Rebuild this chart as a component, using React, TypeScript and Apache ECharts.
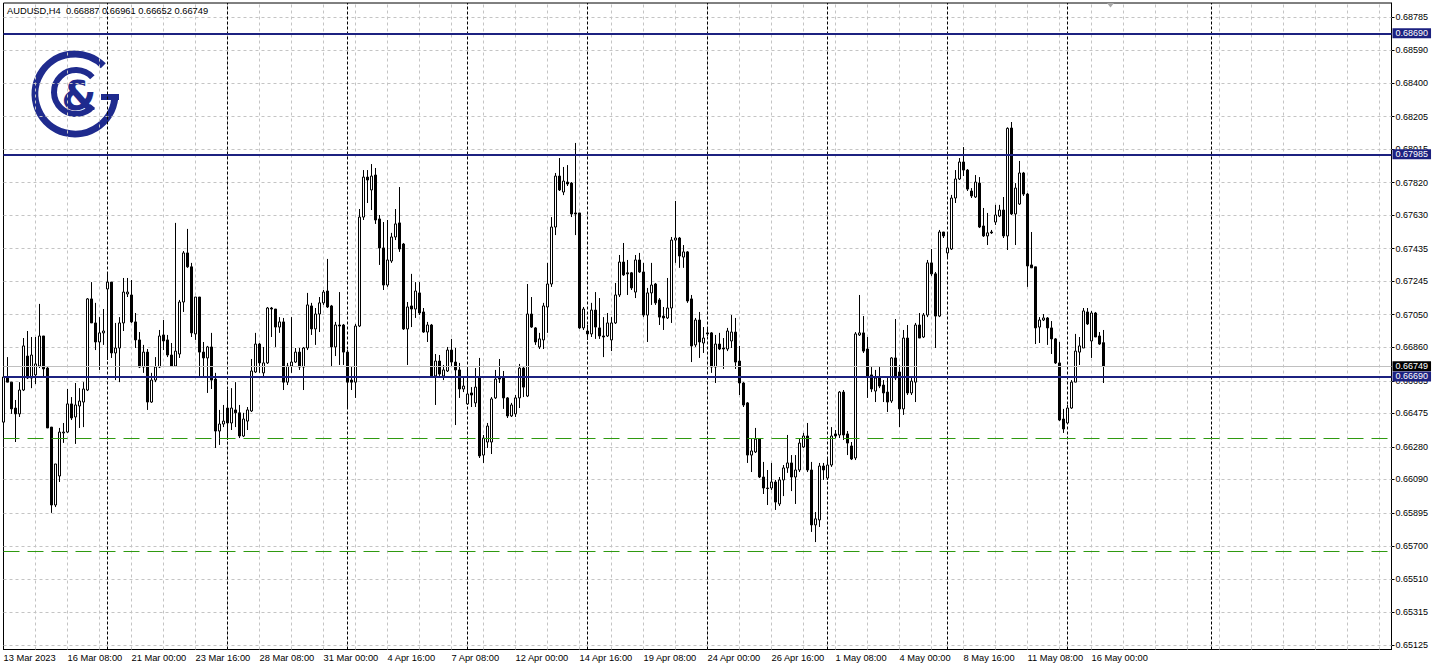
import React, { useEffect, useRef } from 'react';
import * as echarts from 'echarts';

const SYMBOL = 'AUDUSD,H4';

const opens = [
  0.66424, 0.66687, 0.66657, 0.66506, 0.66472, 0.66611, 0.66809, 0.66681, 0.66699, 0.66751,
  0.66926, 0.66739, 0.66395, 0.65941, 0.66110, 0.66361, 0.66366, 0.66530, 0.66454, 0.66518,
  0.66541, 0.66611, 0.67142, 0.67002, 0.66891, 0.66944, 0.67200, 0.67240, 0.66827, 0.66856,
  0.67002, 0.67171, 0.67165, 0.67008, 0.66903, 0.66745, 0.66832, 0.66541, 0.66669, 0.66745,
  0.66932, 0.66903, 0.66815, 0.66751, 0.66821, 0.67124, 0.67410, 0.67329, 0.66938, 0.67153,
  0.66832, 0.66798, 0.66862, 0.66675, 0.66372, 0.66413, 0.66506, 0.66419, 0.66495, 0.66478,
  0.66343, 0.66430, 0.66489, 0.66716, 0.66879, 0.66711, 0.66769, 0.67089, 0.67083, 0.66978,
  0.67008, 0.66657, 0.66751, 0.66774, 0.66832, 0.66745, 0.66856, 0.67101, 0.66967, 0.67054,
  0.67119, 0.67188, 0.67101, 0.66862, 0.66990, 0.66990, 0.66832, 0.66669, 0.66657, 0.66984,
  0.67619, 0.67852, 0.67777, 0.67864, 0.67608, 0.67439, 0.67223, 0.67363, 0.67503, 0.67585,
  0.67462, 0.66967, 0.67101, 0.67083, 0.67177, 0.67066, 0.66949, 0.66990, 0.66693, 0.66780,
  0.66693, 0.66722, 0.66844, 0.66774, 0.66728, 0.66617, 0.66530, 0.66594, 0.66536, 0.66687,
  0.66232, 0.66308, 0.66308, 0.66565, 0.66681, 0.66681, 0.66565, 0.66460, 0.66472, 0.66565,
  0.66739, 0.66576, 0.67054, 0.66973, 0.66862, 0.66903, 0.67095, 0.67229, 0.67561, 0.67858,
  0.67765, 0.67823, 0.67817, 0.67643, 0.67643, 0.66973, 0.66955, 0.66938, 0.67077, 0.66973,
  0.66926, 0.66926, 0.66903, 0.67002, 0.67165, 0.67357, 0.67294, 0.67294, 0.67182, 0.67369,
  0.67299, 0.67048, 0.67177, 0.67229, 0.67136, 0.67042, 0.67031, 0.67089, 0.67485, 0.67497,
  0.67386, 0.67416, 0.67142, 0.66874, 0.67019, 0.66885, 0.66944, 0.66944, 0.66745, 0.66879,
  0.66856, 0.66850, 0.66897, 0.66949, 0.66780, 0.66652, 0.66536, 0.66232, 0.66250, 0.66325,
  0.66104, 0.66040, 0.66040, 0.66075, 0.65947, 0.66087, 0.66157, 0.66186, 0.66104, 0.66145,
  0.66279, 0.66343, 0.66145, 0.65825, 0.65854, 0.66168, 0.66098, 0.66174, 0.66355, 0.66349,
  0.66599, 0.66355, 0.66285, 0.66215, 0.66932, 0.66944, 0.66850, 0.66699, 0.66605, 0.66681,
  0.66640, 0.66599, 0.66547, 0.66798, 0.66716, 0.66501, 0.66914, 0.66594, 0.66657, 0.66990,
  0.66920, 0.67048, 0.67352, 0.67288, 0.67042, 0.67532, 0.67410, 0.67433, 0.67730, 0.67841,
  0.67940, 0.67893, 0.67771, 0.67736, 0.67817, 0.67567, 0.67509, 0.67532, 0.67590, 0.67625,
  0.67660, 0.67509, 0.68138, 0.67637, 0.67695, 0.67876, 0.67753, 0.67340, 0.67329, 0.66978,
  0.67019, 0.67031, 0.66973, 0.66909, 0.66769, 0.66442, 0.66419, 0.66506, 0.66657, 0.66832,
  0.66856, 0.67066, 0.66897, 0.67060, 0.66926, 0.66887,
];

const highs = [
  0.67165, 0.66803, 0.66657, 0.66553, 0.66657, 0.66914, 0.66955, 0.66920, 0.66920, 0.67113,
  0.66926, 0.66745, 0.66395, 0.66180, 0.66390, 0.66419, 0.66617, 0.66570, 0.66652, 0.66622,
  0.66657, 0.67147, 0.67240, 0.67119, 0.67036, 0.67083, 0.67294, 0.67240, 0.67002, 0.67036,
  0.67264, 0.67264, 0.67252, 0.67060, 0.66949, 0.66874, 0.66850, 0.66711, 0.66803, 0.66961,
  0.67019, 0.66932, 0.66885, 0.67585, 0.67136, 0.67421, 0.67550, 0.67352, 0.67153, 0.67153,
  0.66891, 0.66868, 0.66944, 0.66711, 0.66495, 0.66524, 0.66611, 0.66622, 0.66657, 0.66524,
  0.66478, 0.66512, 0.66792, 0.66944, 0.66885, 0.66862, 0.67095, 0.67095, 0.67083, 0.67036,
  0.67031, 0.66769, 0.67036, 0.66856, 0.66856, 0.66862, 0.67177, 0.67119, 0.67089, 0.67153,
  0.67194, 0.67375, 0.67107, 0.67008, 0.67182, 0.66996, 0.66844, 0.66745, 0.66996, 0.67666,
  0.67893, 0.67893, 0.67928, 0.67905, 0.67631, 0.67590, 0.67602, 0.67527, 0.67666, 0.67794,
  0.67468, 0.67124, 0.67288, 0.67240, 0.67240, 0.67089, 0.67008, 0.66996, 0.66821, 0.66815,
  0.66757, 0.66862, 0.66909, 0.66856, 0.66769, 0.66681, 0.66739, 0.66628, 0.66739, 0.66798,
  0.66349, 0.66419, 0.66570, 0.66728, 0.66792, 0.66722, 0.66570, 0.66536, 0.66582, 0.66763,
  0.66751, 0.67229, 0.67153, 0.66978, 0.66944, 0.67119, 0.67352, 0.67619, 0.67876, 0.67963,
  0.67911, 0.67922, 0.67823, 0.68051, 0.67643, 0.67095, 0.66990, 0.67119, 0.67182, 0.67147,
  0.67036, 0.67060, 0.67036, 0.67235, 0.67398, 0.67468, 0.67369, 0.67299, 0.67398, 0.67410,
  0.67352, 0.67206, 0.67352, 0.67235, 0.67147, 0.67095, 0.67264, 0.67503, 0.67713, 0.67503,
  0.67456, 0.67421, 0.67165, 0.67031, 0.67066, 0.66978, 0.66978, 0.66949, 0.66932, 0.66944,
  0.66914, 0.66973, 0.67048, 0.67031, 0.66868, 0.66657, 0.66541, 0.66331, 0.66390, 0.66331,
  0.66192, 0.66145, 0.66186, 0.66087, 0.66104, 0.66174, 0.66349, 0.66232, 0.66232, 0.66331,
  0.66361, 0.66419, 0.66192, 0.65900, 0.66186, 0.66186, 0.66221, 0.66395, 0.66378, 0.66605,
  0.66611, 0.66372, 0.66308, 0.66949, 0.67165, 0.67042, 0.66920, 0.66745, 0.66728, 0.66745,
  0.66669, 0.66687, 0.66803, 0.67025, 0.66757, 0.66961, 0.66990, 0.66687, 0.67002, 0.67060,
  0.67060, 0.67369, 0.67433, 0.67299, 0.67544, 0.67532, 0.67520, 0.67748, 0.67893, 0.67963,
  0.68027, 0.67899, 0.67788, 0.67864, 0.67852, 0.67672, 0.67643, 0.67544, 0.67690, 0.67690,
  0.67736, 0.68142, 0.68173, 0.67817, 0.67946, 0.67882, 0.67759, 0.67532, 0.67329, 0.67036,
  0.67054, 0.67036, 0.67013, 0.66914, 0.66891, 0.66501, 0.66524, 0.66669, 0.66938, 0.66920,
  0.67089, 0.67089, 0.67072, 0.67066, 0.66949, 0.66961,
];

const lows = [
  0.66337, 0.66657, 0.66472, 0.66308, 0.66454, 0.66605, 0.66675, 0.66622, 0.66646, 0.66739,
  0.66681, 0.66390, 0.65895, 0.65929, 0.66075, 0.66303, 0.66361, 0.66436, 0.66297, 0.66390,
  0.66395, 0.66605, 0.67002, 0.66844, 0.66728, 0.66874, 0.66786, 0.66798, 0.66669, 0.66657,
  0.66955, 0.67153, 0.67002, 0.66856, 0.66739, 0.66711, 0.66495, 0.66536, 0.66657, 0.66739,
  0.66844, 0.66803, 0.66745, 0.66745, 0.66798, 0.67066, 0.67323, 0.66920, 0.66903, 0.66693,
  0.66687, 0.66594, 0.66617, 0.66273, 0.66291, 0.66395, 0.66320, 0.66378, 0.66395, 0.66331,
  0.66337, 0.66378, 0.66483, 0.66711, 0.66711, 0.66681, 0.66763, 0.66920, 0.66862, 0.66944,
  0.66611, 0.66640, 0.66711, 0.66769, 0.66728, 0.66611, 0.66844, 0.66932, 0.66874, 0.66949,
  0.67107, 0.67089, 0.66745, 0.66809, 0.66757, 0.66757, 0.66506, 0.66611, 0.66565, 0.66978,
  0.67602, 0.67701, 0.67660, 0.67579, 0.67340, 0.67194, 0.67212, 0.67352, 0.67485, 0.67416,
  0.66961, 0.66757, 0.66978, 0.67031, 0.67048, 0.66944, 0.66891, 0.66681, 0.66524, 0.66693,
  0.66669, 0.66716, 0.66745, 0.66407, 0.66565, 0.66599, 0.66524, 0.66512, 0.66512, 0.66215,
  0.66186, 0.66273, 0.66238, 0.66559, 0.66652, 0.66501, 0.66448, 0.66454, 0.66454, 0.66506,
  0.66570, 0.66570, 0.66973, 0.66874, 0.66850, 0.66850, 0.66944, 0.67212, 0.67514, 0.67771,
  0.67747, 0.67800, 0.67619, 0.67514, 0.66967, 0.66961, 0.66903, 0.66920, 0.66909, 0.66909,
  0.66803, 0.66920, 0.66838, 0.66996, 0.67153, 0.67276, 0.67165, 0.67194, 0.67147, 0.67294,
  0.67036, 0.66891, 0.67107, 0.67107, 0.66990, 0.66961, 0.67025, 0.67002, 0.67352, 0.67323,
  0.67323, 0.67119, 0.66774, 0.66862, 0.66798, 0.66827, 0.66926, 0.66711, 0.66652, 0.66844,
  0.66734, 0.66838, 0.66856, 0.66734, 0.66582, 0.66512, 0.66186, 0.66133, 0.66244, 0.66098,
  0.66005, 0.65941, 0.66028, 0.65912, 0.65935, 0.65993, 0.66128, 0.66022, 0.65947, 0.66133,
  0.66273, 0.66133, 0.65784, 0.65725, 0.65813, 0.66087, 0.66087, 0.66163, 0.66331, 0.66331,
  0.66320, 0.66232, 0.66203, 0.66203, 0.66926, 0.66827, 0.66565, 0.66599, 0.66541, 0.66622,
  0.66541, 0.66483, 0.66536, 0.66669, 0.66395, 0.66466, 0.66582, 0.66582, 0.66541, 0.66914,
  0.66914, 0.67036, 0.67276, 0.66856, 0.67036, 0.67497, 0.67386, 0.67427, 0.67701, 0.67835,
  0.67858, 0.67771, 0.67730, 0.67730, 0.67555, 0.67503, 0.67456, 0.67521, 0.67573, 0.67619,
  0.67497, 0.67427, 0.67631, 0.67456, 0.67690, 0.67742, 0.67212, 0.67323, 0.66879, 0.66885,
  0.67013, 0.66874, 0.66821, 0.66763, 0.66430, 0.66361, 0.66413, 0.66501, 0.66657, 0.66757,
  0.66856, 0.66990, 0.66798, 0.66920, 0.66874, 0.66652,
];

const closes = [
  0.66687, 0.66657, 0.66501, 0.66472, 0.66611, 0.66868, 0.66681, 0.66815, 0.66763, 0.66926,
  0.66734, 0.66390, 0.65941, 0.66180, 0.66366, 0.66366, 0.66530, 0.66448, 0.66524, 0.66547,
  0.66617, 0.67142, 0.67002, 0.66891, 0.66944, 0.66955, 0.67240, 0.66827, 0.66856, 0.67002,
  0.67182, 0.67182, 0.67008, 0.66903, 0.66745, 0.66832, 0.66541, 0.66669, 0.66745, 0.66926,
  0.66897, 0.66815, 0.66751, 0.66838, 0.67124, 0.67410, 0.67329, 0.66944, 0.67153, 0.66832,
  0.66798, 0.66862, 0.66669, 0.66372, 0.66413, 0.66430, 0.66419, 0.66506, 0.66478, 0.66343,
  0.66442, 0.66495, 0.66722, 0.66879, 0.66769, 0.66769, 0.67089, 0.67083, 0.66978, 0.67008,
  0.66657, 0.66751, 0.66774, 0.66832, 0.66745, 0.66856, 0.67107, 0.66967, 0.67054, 0.67119,
  0.67182, 0.67095, 0.66862, 0.66990, 0.66984, 0.66832, 0.66657, 0.66657, 0.66984, 0.67619,
  0.67852, 0.67835, 0.67858, 0.67602, 0.67439, 0.67223, 0.67369, 0.67503, 0.67579, 0.67433,
  0.66967, 0.67095, 0.67083, 0.67188, 0.67060, 0.66949, 0.66990, 0.66687, 0.66780, 0.66704,
  0.66728, 0.66844, 0.66774, 0.66728, 0.66617, 0.66634, 0.66588, 0.66582, 0.66628, 0.66227,
  0.66331, 0.66401, 0.66559, 0.66675, 0.66675, 0.66565, 0.66460, 0.66524, 0.66565, 0.66739,
  0.66628, 0.67054, 0.66978, 0.66891, 0.66909, 0.67101, 0.67229, 0.67561, 0.67858, 0.67777,
  0.67829, 0.67812, 0.67637, 0.67637, 0.66973, 0.67083, 0.66938, 0.67077, 0.66978, 0.66926,
  0.66920, 0.67002, 0.67002, 0.67165, 0.67357, 0.67282, 0.67288, 0.67206, 0.67369, 0.67299,
  0.67048, 0.67177, 0.67223, 0.67119, 0.67036, 0.67031, 0.67089, 0.67485, 0.67497, 0.67392,
  0.67416, 0.67130, 0.66868, 0.67019, 0.66891, 0.66914, 0.66938, 0.66745, 0.66879, 0.66850,
  0.66850, 0.66955, 0.66949, 0.66774, 0.66652, 0.66524, 0.66232, 0.66256, 0.66325, 0.66104,
  0.66040, 0.66037, 0.66075, 0.65958, 0.66087, 0.66157, 0.66186, 0.66104, 0.66145, 0.66302,
  0.66343, 0.66145, 0.65825, 0.65860, 0.66168, 0.66145, 0.66174, 0.66343, 0.66343, 0.66599,
  0.66349, 0.66302, 0.66209, 0.66938, 0.66944, 0.66838, 0.66687, 0.66617, 0.66681, 0.66634,
  0.66594, 0.66541, 0.66798, 0.66681, 0.66501, 0.66914, 0.66594, 0.66663, 0.66990, 0.66914,
  0.67048, 0.67352, 0.67288, 0.67042, 0.67532, 0.67509, 0.67439, 0.67730, 0.67841, 0.67940,
  0.67893, 0.67782, 0.67742, 0.67823, 0.67561, 0.67509, 0.67527, 0.67527, 0.67631, 0.67660,
  0.67509, 0.68136, 0.67637, 0.67788, 0.67876, 0.67753, 0.67334, 0.67323, 0.66973, 0.67019,
  0.67031, 0.66973, 0.66909, 0.66769, 0.66436, 0.66384, 0.66506, 0.66657, 0.66838, 0.66868,
  0.67072, 0.66996, 0.67060, 0.66920, 0.66879, 0.66749,
];

// price-axis tick labels (as printed on the right scale)
const yTicks = [
  0.68785, 0.68590, 0.68400, 0.68205, 0.68015, 0.67820, 0.67630, 0.67435, 0.67245, 0.67050,
  0.66860, 0.66665, 0.66475, 0.66280, 0.66090, 0.65895, 0.65700, 0.65510, 0.65315, 0.65125,
];

// time-axis tick labels, one every 16 bars
const xTickLabels = [
  '13 Mar 2023', '16 Mar 08:00', '21 Mar 00:00', '23 Mar 16:00', '28 Mar 08:00', '31 Mar 00:00',
  '4 Apr 16:00', '7 Apr 08:00', '12 Apr 00:00', '14 Apr 16:00', '19 Apr 08:00', '24 Apr 00:00',
  '26 Apr 16:00', '1 May 08:00', '4 May 00:00', '8 May 16:00', '11 May 08:00', '16 May 00:00',
];

// weekly period separators
const weekSeparators = [
  '2023.03.20 00:00', '2023.03.27 00:00', '2023.04.03 00:00', '2023.04.10 00:00', '2023.04.17 00:00',
  '2023.04.24 00:00', '2023.05.01 00:00', '2023.05.08 00:00', '2023.05.15 00:00', '2023.05.23 00:00',
];

const levelLines = [0.68690, 0.67985, 0.66690];
const dashedLevels = [0.66329, 0.65670];
const lastPrice = 0.66749;

const Y_MIN = 0.650988;
const Y_MAX = 0.688666;
const TOTAL_SLOTS = 348;
const GRID_EVERY = 8; // vertical grid line every 8 bars
const FIRST_BAR_UTC = Date.UTC(2023, 2, 13, 16);

const NAVY = '#1c2180';
const LOGO = '#1f2b8e';
const GREEN = '#2f9a10';
const GRID_GRAY = '#c4c4c4';
const FONT = "'Liberation Sans', Arial, sans-serif";

const pad = (n: number) => (n < 10 ? '0' + n : '' + n);

function buildTimes(n: number): string[] {
  const out: string[] = [];
  let t = FIRST_BAR_UTC;
  while (out.length < n) {
    const d = new Date(t);
    const wd = d.getUTCDay();
    if (wd !== 0 && wd !== 6) {
      out.push(
        `${d.getUTCFullYear()}.${pad(d.getUTCMonth() + 1)}.${pad(d.getUTCDate())} ${pad(d.getUTCHours())}:00`
      );
    }
    t += 4 * 3600 * 1000;
  }
  return out;
}

export default function App() {
  const ref = useRef<HTMLDivElement>(null);

  useEffect(() => {
    if (!ref.current) return;
    const chart = echarts.init(ref.current, undefined, { renderer: 'svg' });
    const times = buildTimes(TOTAL_SLOTS);
    const candles = opens.map((o, i) => [o, closes[i], lows[i], highs[i]]);
    const n = opens.length - 1;
    const titleText = `${SYMBOL}  ${opens[n].toFixed(5)} ${highs[n].toFixed(5)} ${lows[n].toFixed(5)} ${closes[n].toFixed(5)}`;

    const boxLabel = (bg: string) => ({
      show: true,
      position: 'end',
      distance: 1,
      formatter: (p: any) => Number(p.value).toFixed(5),
      backgroundColor: bg,
      color: '#ffffff',
      padding: [1, 3, 0, 3],
      fontSize: 9,
      fontFamily: FONT,
    });

    const markBase = {
      silent: true,
      symbol: ['none', 'none'],
      precision: 5,
      animation: false,
    };

    const option: any = {
      animation: false,
      backgroundColor: '#ffffff',
      title: {
        text: titleText,
        left: 7,
        top: 6,
        padding: 0,
        textStyle: { fontSize: 9.3, fontWeight: 'normal', color: '#000', fontFamily: FONT },
      },
      grid: {
        left: 3.5,
        right: 45.5,
        top: 3,
        bottom: 19.5,
        show: true,
        borderColor: '#000',
        borderWidth: 1,
        backgroundColor: 'transparent',
      },
      xAxis: {
        type: 'category',
        data: times,
        boundaryGap: false,
        axisLine: { show: true, lineStyle: { color: '#000', width: 1 } },
        axisTick: { show: false },
        axisLabel: {
          interval: 15,
          align: 'left',
          margin: 4,
          fontSize: 9.3,
          color: '#000',
          fontFamily: FONT,
          formatter: (_v: string, i: number) => xTickLabels[i / 16] ?? '',
        },
        splitLine: { show: false },
      },
      yAxis: {
        type: 'value',
        position: 'right',
        min: Y_MIN,
        max: Y_MAX,
        axisLine: { show: true, lineStyle: { color: '#000' } },
        axisTick: { show: true, length: 3, customValues: yTicks, lineStyle: { color: '#000' } },
        axisLabel: {
          customValues: yTicks,
          formatter: (v: number) => v.toFixed(5),
          margin: 4,
          fontSize: 9,
          color: '#000',
          fontFamily: FONT,
        },
        splitLine: { show: false },
      },
      graphic: [
        {
          type: 'group',
          z: 10,
          children: [
            {
              type: 'arc',
              shape: { cx: 75, cy: 94, r: 40, startAngle: 0, endAngle: (315 * Math.PI) / 180, clockwise: true },
              style: { stroke: LOGO, lineWidth: 7, fill: null },
            },
            {
              type: 'arc',
              shape: { cx: 76, cy: 92, r: 22, startAngle: (40 * Math.PI) / 180, endAngle: (318 * Math.PI) / 180, clockwise: true },
              style: { stroke: LOGO, lineWidth: 6, fill: null },
            },
            { type: 'rect', shape: { x: 101, y: 94, width: 18, height: 6 }, style: { fill: LOGO } },
            {
              type: 'text',
              style: {
                text: '&',
                x: 79,
                y: 96,
                fill: LOGO,
                font: "bold 40px 'DejaVu Sans'",
                align: 'center',
                verticalAlign: 'middle',
              },
            },
          ],
        },
        {
          type: 'polygon',
          z: 10,
          shape: { points: [[1107, 3], [1114, 3], [1110.5, 7.5]] },
          style: { fill: '#a8a8a8' },
        },
      ],
      series: [
        {
          name: 'grid',
          type: 'line',
          data: [],
          silent: true,
          markLine: {
            ...markBase,
            z: 1,
            label: { show: false },
            lineStyle: { color: GRID_GRAY, type: [3, 3], width: 1 },
            data: [
              ...yTicks.map((v) => ({ yAxis: v })),
              ...times.filter((_, i) => i > 0 && i % GRID_EVERY === 0).map((c) => ({ xAxis: c })),
            ],
          },
        },
        {
          name: 'separators',
          type: 'line',
          data: [],
          silent: true,
          markLine: {
            ...markBase,
            z: 1,
            label: { show: false },
            lineStyle: { color: '#000', type: [3, 2], width: 1 },
            data: weekSeparators.map((c) => ({ xAxis: c })),
          },
        },
        {
          name: SYMBOL,
          type: 'candlestick',
          data: candles,
          barWidth: 2,
          z: 2,
          itemStyle: {
            color: '#ffffff',
            color0: '#000000',
            borderColor: '#000000',
            borderColor0: '#000000',
            borderColorDoji: '#000000',
            borderWidth: 1,
          },
        },
        {
          name: 'support',
          type: 'line',
          data: [],
          silent: true,
          markLine: {
            ...markBase,
            z: 4,
            label: { show: false },
            lineStyle: { color: GREEN, width: 1, type: [16, 8], opacity: 1 },
            data: dashedLevels.map((v) => ({ yAxis: v })),
          },
        },
        {
          name: 'levels',
          type: 'line',
          data: [],
          silent: true,
          markLine: {
            ...markBase,
            z: 5,
            data: [
              {
                yAxis: lastPrice,
                lineStyle: { color: '#c0c0c0', width: 1, type: 'solid' },
                label: boxLabel('#000000'),
              },
              ...levelLines.map((v) => ({
                yAxis: v,
                lineStyle: { color: NAVY, width: 2, type: 'solid' },
                label: boxLabel(NAVY),
              })),
            ],
          },
        },
      ],
    };

    chart.setOption(option);
    return () => chart.dispose();
  }, []);

  return (
    <div
      ref={ref}
      style={{ position: 'fixed', left: 0, top: 0, width: 1437, height: 669, background: '#fff' }}
    />
  );
}
